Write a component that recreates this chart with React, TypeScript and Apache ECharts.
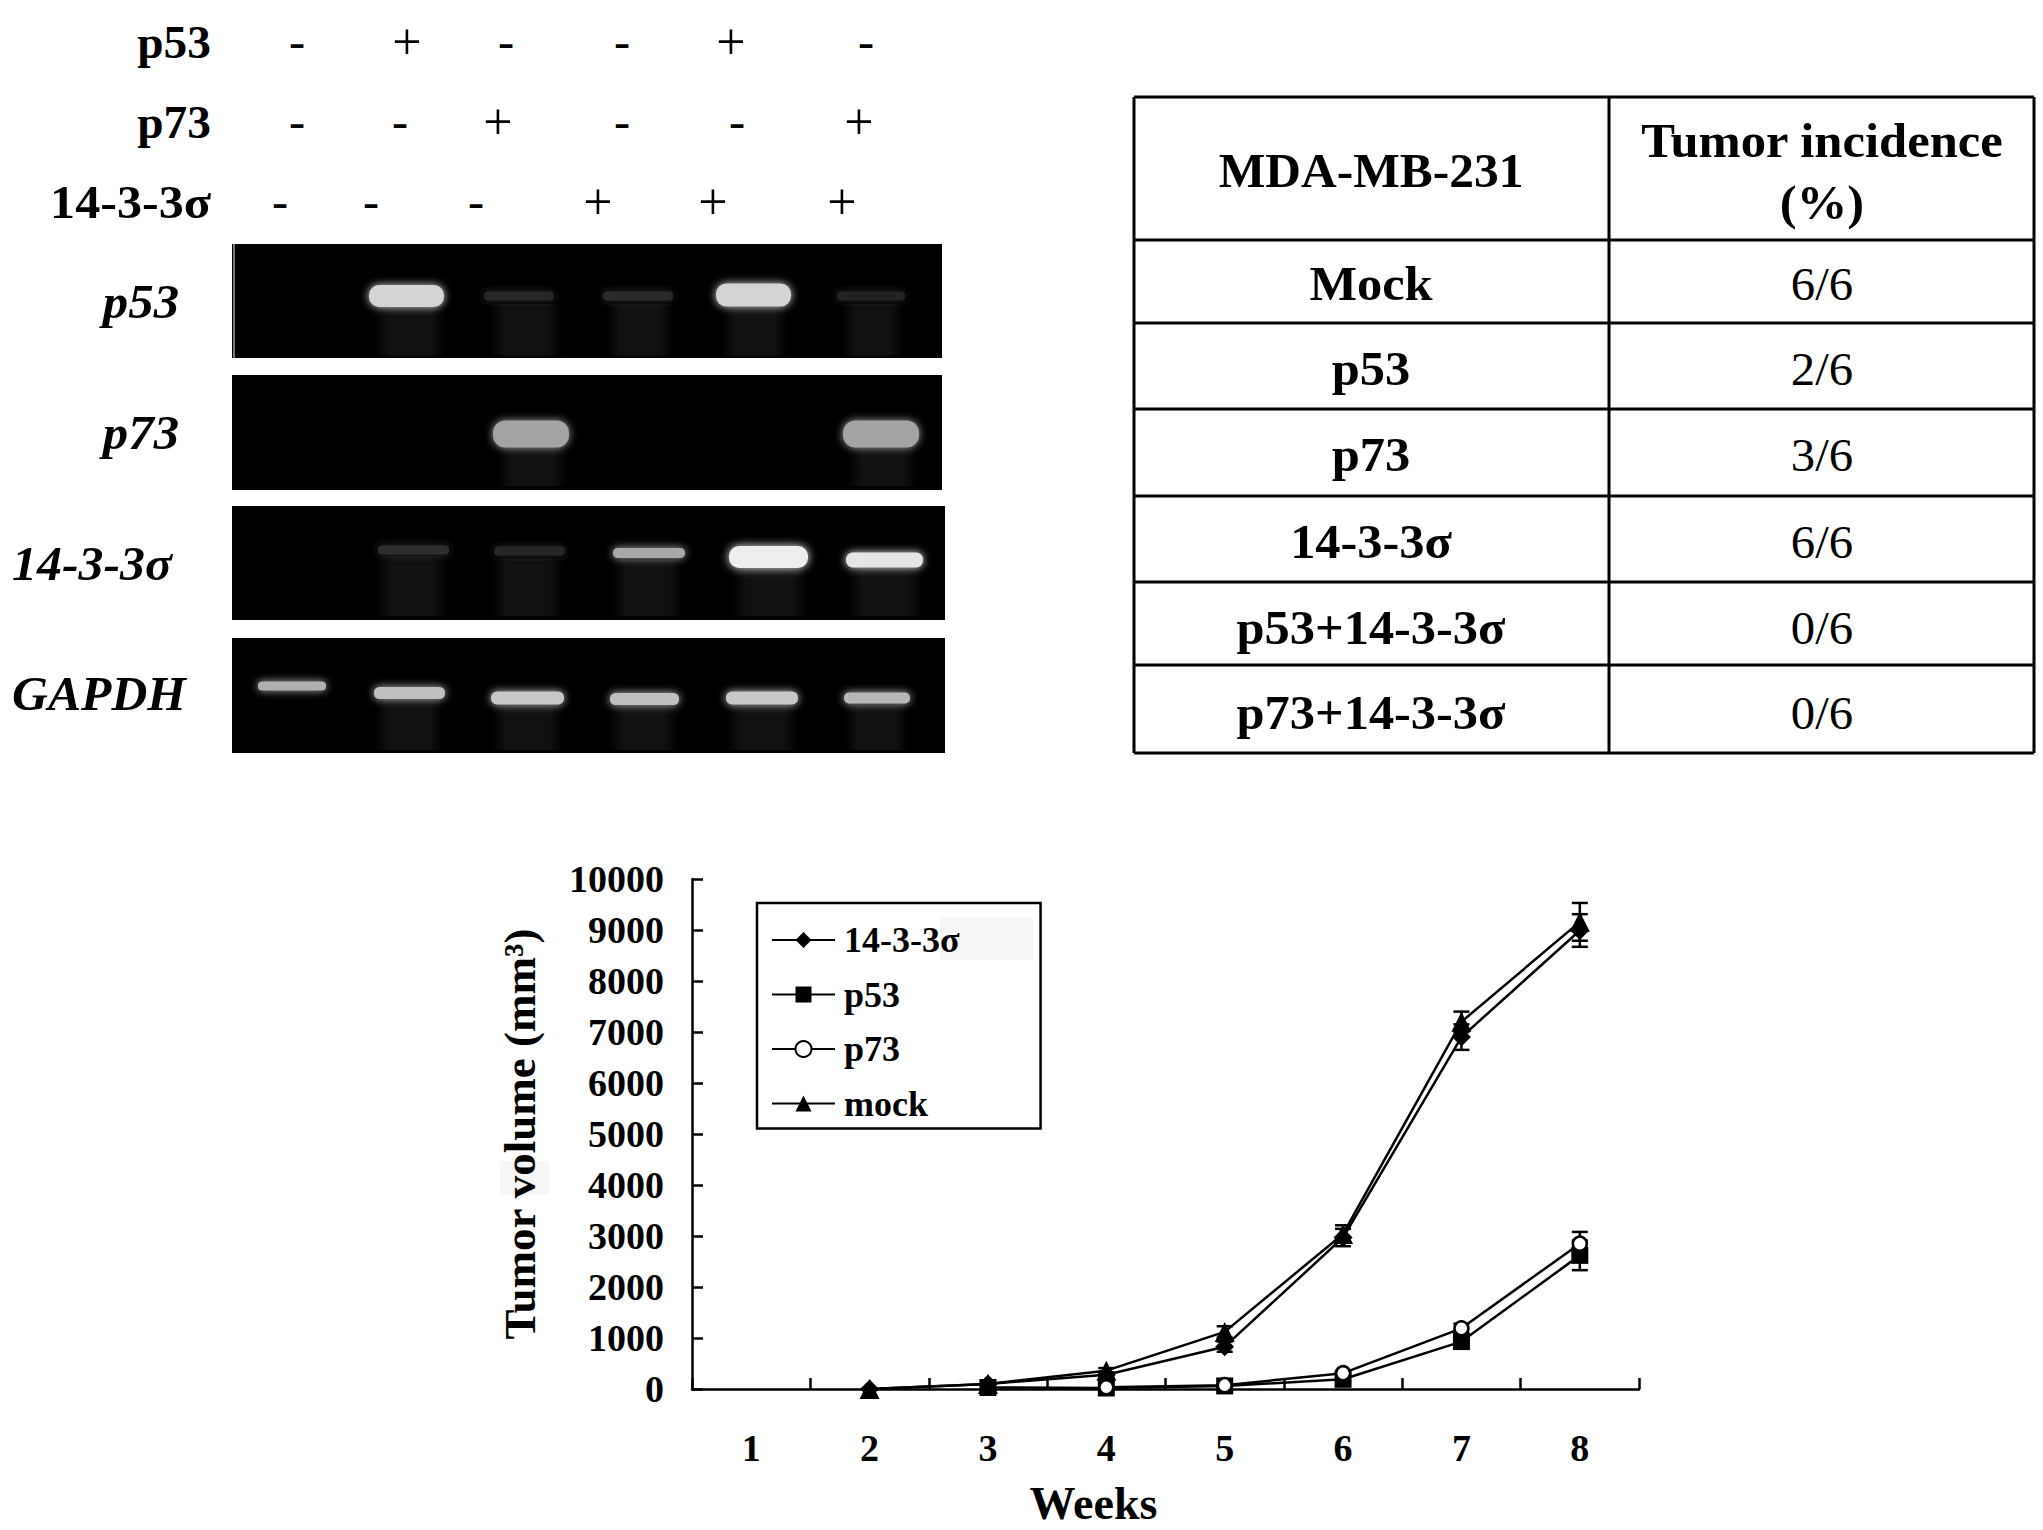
import React, { useEffect, useRef } from "react";
import * as echarts from "echarts";

const SERIF = '"Liberation Serif", serif';

// line chart data
const weeks = ["1", "2", "3", "4", "5", "6", "7", "8"];
const sigma = [null, 0, 100, 280, 830, 2970, 6900, 8990];
const p53 = [null, null, 30, 20, 60, 190, 930, 2620];
const p73 = [null, null, null, 35, 75, 310, 1190, 2850];
const mock = [null, 0, 100, 360, 1120, 3040, 7200, 9160];
const sigmaErr = [null, 0, 20, 50, 100, 170, 250, 320];
const p53Err = [null, null, 10, 10, 20, 40, 110, 290];
const p73Err = [null, null, null, 10, 20, 40, 90, 230];
const mockErr = [null, 0, 20, 50, 110, 170, 200, 370];

// gel row labels and treatment marks
const treatRows = ["p53", "p73", "14-3-3σ"];
const treatMarks = [
  ["-", "+", "-", "-", "+", "-"],
  ["-", "-", "+", "-", "-", "+"],
  ["-", "-", "-", "+", "+", "+"],
];
const geneRows = ["p53", "p73", "14-3-3σ", "GAPDH"];

// table text
const tableHead = ["MDA-MB-231", "Tumor incidence", "(%)"];
const tableNames = ["Mock", "p53", "p73", "14-3-3σ", "p53+14-3-3σ", "p73+14-3-3σ"];
const tableValues = ["6/6", "2/6", "3/6", "6/6", "0/6", "0/6"];

// layout of the non-chart parts
const markX = [
  [297, 407, 506, 622, 731, 866],
  [297, 400, 498, 622, 737, 859],
  [280, 371, 476, 598, 713, 842],
];
const markY = [42, 122, 202];
const treatScale = [1.03, 1.03, 1.09];
const panelY = [
  [244, 358],
  [375, 490],
  [506, 620],
  [638, 753],
];
const panelRight = [942, 942, 945, 945];
const geneLabelPos = [
  [141, 302],
  [141, 433],
  [92, 564],
  [99, 694],
];
const geneScale = [1.06, 1.06, 1.04, 1.035];
// x0, x1, yCentre, height, fill, blur
const bands: [number, number, number, number, string, number][] = [
  [369, 444, 296, 22, "#d4d4d4", 8],
  [484, 554, 296, 9, "#282828", 10],
  [603, 673, 296, 9, "#2c2c2c", 10],
  [716, 791, 295, 23, "#d4d4d4", 8],
  [837, 905, 296, 9, "#232323", 10],
  [493, 569, 434, 27, "#a4a4a4", 9],
  [843, 919, 434, 27, "#a4a4a4", 9],
  [378, 449, 550, 9, "#2e2e2e", 10],
  [494, 565, 551, 9, "#282828", 10],
  [613, 685, 553, 10, "#a8a8a8", 8],
  [729, 808, 557, 22, "#eeeeee", 10],
  [846, 923, 560, 15, "#e6e6e6", 9],
  [258, 326, 686, 9, "#b0b0b0", 8],
  [374, 445, 693, 12, "#c0c0c0", 8],
  [491, 564, 698, 13, "#c8c8c8", 8],
  [610, 679, 699, 12, "#c0c0c0", 8],
  [726, 798, 698, 13, "#c8c8c8", 8],
  [844, 910, 698, 11, "#b8b8b8", 8],
];
// x0, x1, y0, y1 faint smears below the bands
const smears = [
  [375, 445, 306, 356],
  [722, 788, 306, 356],
  [490, 562, 304, 356],
  [607, 673, 304, 356],
  [842, 903, 304, 356],
  [498, 567, 446, 486],
  [848, 917, 446, 486],
  [377, 448, 556, 616],
  [492, 563, 558, 616],
  [612, 683, 560, 616],
  [732, 808, 568, 616],
  [847, 923, 568, 616],
  [375, 443, 700, 750],
  [492, 563, 706, 750],
  [609, 678, 706, 750],
  [727, 798, 706, 750],
  [845, 908, 706, 750],
];
const tableX = [1134, 1609, 2034];
const tableY = [97, 240, 323, 409, 496, 582, 665, 753];
const tableRowText = [284, 369, 455, 542, 628, 713];

const txt = (
  text: string,
  x: number,
  y: number,
  fontSize: number,
  opts: { bold?: boolean; italic?: boolean; align?: string; sx?: number } = {}
) => ({
  type: "text",
  x,
  y,
  scaleX: opts.sx ?? 1.04,
  style: {
    text,
    fontSize,
    fontFamily: SERIF,
    fontWeight: opts.bold === false ? "normal" : "bold",
    fontStyle: opts.italic ? "italic" : "normal",
    fill: "#000",
    align: opts.align ?? "center",
    verticalAlign: "middle",
  },
});

function buildGraphics() {
  const els: any[] = [];
  treatRows.forEach((r, i) => els.push(txt(r, 211, markY[i], 46, { align: "right", sx: treatScale[i] })));
  treatMarks.forEach((row, i) =>
    row.forEach((m, j) =>
      els.push(
        m === "+"
          ? txt(m, markX[i][j], markY[i] - 1, 52, { bold: false, sx: 1 })
          : txt(m, markX[i][j], markY[i], 44, { sx: 1.1 })
      )
    )
  );
  panelY.forEach(([a, b], i) =>
    els.push({ type: "rect", shape: { x: 232, y: a, width: panelRight[i] - 232, height: b - a }, style: { fill: "#000" } })
  );
  els.push({ type: "line", shape: { x1: 234, y1: 244, x2: 234, y2: 358 }, style: { stroke: "#777", lineWidth: 2 } });
  smears.forEach(([a, b, c, d]) =>
    els.push({
      type: "rect",
      shape: { x: a, y: c, width: b - a, height: d - c },
      style: {
        fill: new echarts.graphic.LinearGradient(0, 0, 1, 0, [
          { offset: 0, color: "#000000" },
          { offset: 0.2, color: "#111111" },
          { offset: 0.8, color: "#111111" },
          { offset: 1, color: "#000000" },
        ]),
      },
    })
  );
  bands.forEach(([a, b, c, h, fill, blur]) =>
    els.push({
      type: "rect",
      shape: { x: a, y: c - h / 2, width: b - a, height: h, r: h / 2.2 },
      style: { fill, shadowBlur: blur, shadowColor: fill },
    })
  );
  geneRows.forEach((r, i) =>
    els.push(txt(r, geneLabelPos[i][0], geneLabelPos[i][1], 48, { italic: true, sx: geneScale[i] }))
  );

  // table
  const stroke = { stroke: "#000", lineWidth: 3 };
  tableY.forEach((y) =>
    els.push({ type: "line", shape: { x1: tableX[0], y1: y, x2: tableX[2], y2: y }, style: stroke })
  );
  tableX.forEach((x) =>
    els.push({ type: "line", shape: { x1: x, y1: tableY[0], x2: x, y2: tableY[7] }, style: stroke })
  );
  els.push(txt(tableHead[0], 1371, 171, 48, { sx: 1.03 }));
  els.push(txt(tableHead[1], 1822, 141, 48, { sx: 1.055 }));
  els.push(txt(tableHead[2], 1822, 203, 48, { sx: 1.055 }));
  tableNames.forEach((n, i) => els.push(txt(n, 1371, tableRowText[i], 48, { sx: 1.05 })));
  tableValues.forEach((v, i) => els.push(txt(v, 1822, tableRowText[i], 46, { bold: false, sx: 1.06 })));

  // faint scan patches behind the legend entry and the axis title
  els.push({ type: "rect", shape: { x: 940, y: 917, width: 93, height: 43 }, style: { fill: "#f6f6f6" } });
  els.push({ type: "rect", shape: { x: 500, y: 1161, width: 49, height: 34 }, style: { fill: "#f6f6f6" } });
  return els;
}

const errorSeries = (name: string, vals: (number | null)[], errs: (number | null)[]) => ({
  type: "custom",
  name: name + " error",
  z: 2,
  data: weeks
    .map((w, i) => [i, vals[i], errs[i]])
    .filter((d) => d[1] !== null),
  encode: { x: 0, y: 1 },
  silent: true,
  renderItem: (_p: any, api: any) => {
    const i = api.value(0);
    const v = api.value(1);
    const e = api.value(2);
    const top = api.coord([i, v + e]);
    const bot = api.coord([i, Math.max(v - e, 0)]);
    const s = { stroke: "#000", lineWidth: 2.5 };
    const cap = 8;
    return {
      type: "group",
      children: [
        { type: "line", shape: { x1: top[0], y1: top[1], x2: bot[0], y2: bot[1] }, style: s },
        { type: "line", shape: { x1: top[0] - cap, y1: top[1], x2: top[0] + cap, y2: top[1] }, style: s },
        { type: "line", shape: { x1: bot[0] - cap, y1: bot[1], x2: bot[0] + cap, y2: bot[1] }, style: s },
      ],
    };
  },
});

const lineSeries = (
  name: string,
  data: (number | null)[],
  symbol: string,
  symbolSize: number,
  fill: string
) => ({
  type: "line",
  name,
  data,
  symbol,
  symbolSize,
  showSymbol: true,
  showAllSymbol: true,
  z: 3,
  itemStyle: { color: fill, borderColor: "#000", borderWidth: fill === "#fff" ? 2.5 : 0, opacity: 1 },
  lineStyle: { color: "#000", width: 2.5 },
});

export default function App() {
  const ref = useRef<HTMLDivElement>(null);
  useEffect(() => {
    document.body.style.margin = "0";
    const chart = echarts.init(ref.current!, undefined, { renderer: "svg" });
    chart.setOption({
      animation: false,
      backgroundColor: "#fff",
      graphic: { elements: buildGraphics() },
      grid: { left: 692, top: 879, width: 947, height: 510, containLabel: false },
      legend: {
        left: 757,
        top: 903,
        orient: "vertical",
        data: ["14-3-3σ", "p53", "p73", "mock"],
        borderColor: "#000",
        borderWidth: 2.5,
        padding: [19, 81, 7, 14],
        itemWidth: 63,
        itemHeight: 20,
        itemGap: 18.5,
        textStyle: { fontFamily: SERIF, fontWeight: "bold", fontSize: 36, color: "#000", lineHeight: 32, padding: [0, 0, 0, 4] },
      },
      xAxis: {
        type: "category",
        data: weeks,
        boundaryGap: true,
        name: "Weeks",
        nameLocation: "middle",
        nameGap: 91,
        nameTextStyle: { fontFamily: SERIF, fontWeight: "bold", fontSize: 46, color: "#000", padding: [0, 144, 0, 0] },
        axisLine: { lineStyle: { color: "#000", width: 2.5 } },
        axisTick: { show: true, inside: true, length: 11, alignWithLabel: false, lineStyle: { color: "#000", width: 2.5 } },
        axisLabel: { interval: 0, margin: 40, fontFamily: SERIF, fontWeight: "bold", fontSize: 38, color: "#000" },
        splitLine: { show: false },
      },
      yAxis: {
        type: "value",
        min: 0,
        max: 10000,
        interval: 1000,
        name: "Tumor volume (mm³)",
        nameLocation: "middle",
        nameGap: 150,
        nameTextStyle: { fontFamily: SERIF, fontWeight: "bold", fontSize: 45, color: "#000" },
        axisLine: { show: true, lineStyle: { color: "#000", width: 2.5 } },
        axisTick: { show: true, inside: true, length: 11, lineStyle: { color: "#000", width: 2.5 } },
        axisLabel: {
          margin: 28,
          fontFamily: SERIF,
          fontWeight: "bold",
          fontSize: 38,
          color: "#000",
          formatter: (v: number) => String(v),
        },
        splitLine: { show: false },
      },
      series: [
        errorSeries("14-3-3σ", sigma, sigmaErr),
        errorSeries("p53", p53, p53Err),
        errorSeries("p73", p73, p73Err),
        errorSeries("mock", mock, mockErr),
        lineSeries("14-3-3σ", sigma, "diamond", 19, "#000"),
        lineSeries("p53", p53, "rect", 17, "#000"),
        lineSeries("p73", p73, "circle", 14, "#fff"),
        lineSeries("mock", mock, "triangle", 20, "#000"),
      ],
    });
    return () => chart.dispose();
  }, []);
  return <div ref={ref} style={{ position: "absolute", left: 0, top: 0, width: 2043, height: 1530 }} />;
}
